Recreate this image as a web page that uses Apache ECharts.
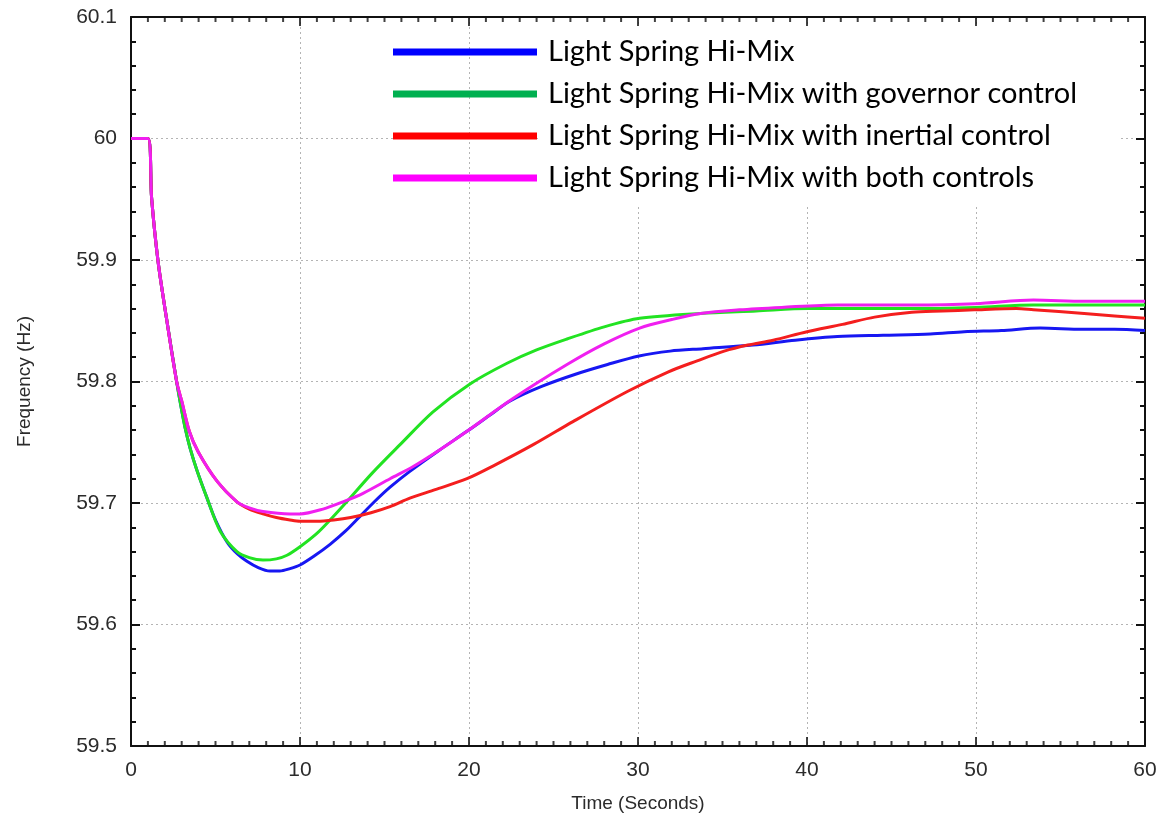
<!DOCTYPE html>
<html>
<head>
<meta charset="utf-8">
<script src="https://cdn.jsdelivr.net/npm/echarts@6/dist/echarts.min.js"></script>
<style>
  html, body { margin: 0; padding: 0; background: #ffffff; }
  #chart { width: 1165px; height: 818px; }
</style>
</head>
<body>
<div id="chart"></div>
<script>
// Series names
const names = [
  'Light Spring Hi-Mix',
  'Light Spring Hi-Mix with governor control',
  'Light Spring Hi-Mix with inertial control',
  'Light Spring Hi-Mix with both controls'
];

// Time (s) and frequency (Hz) samples for each case
const tBlue = [0, 1.0, 1.22, 1.6, 2.1, 2.7, 2.95, 3.2, 3.5, 3.9, 4.5, 5.0, 5.68, 6.3, 6.86, 7.5, 8.22, 8.8, 9.41, 10, 10.9, 11.78, 12.7, 13.55, 14.4, 15.33, 16.5, 18.2, 19.88, 21.2, 22.43, 24.3, 26.3, 28.2, 30.06, 31.9, 33.85, 36.8, 39.3, 41.8, 44.5, 47.3, 49.3, 51.5, 53.8, 56.3, 58.2, 60];
const fBlue = [60, 60, 59.951, 59.899, 59.852, 59.800, 59.780, 59.762, 59.745, 59.727, 59.704, 59.686, 59.668, 59.658, 59.652, 59.647, 59.644, 59.644, 59.646, 59.649, 59.657, 59.666, 59.677, 59.689, 59.701, 59.713, 59.726, 59.743, 59.759, 59.772, 59.784, 59.796, 59.806, 59.814, 59.821, 59.825, 59.827, 59.830, 59.834, 59.837, 59.838, 59.839, 59.841, 59.842, 59.844, 59.843, 59.843, 59.842];

const tGreen = [0, 1.0, 1.22, 1.6, 2.1, 2.7, 2.95, 3.2, 3.5, 3.9, 4.5, 5.27, 6.27, 7.0, 7.81, 8.6, 9.23, 10, 11, 11.78, 12.7, 14.3, 15.92, 17.87, 20.06, 22.25, 24, 25.8, 28, 30.1, 33.7, 37, 40.06, 43, 46.2, 50, 53.4, 56.4, 60];
const fGreen = [60, 60, 59.951, 59.899, 59.852, 59.800, 59.780, 59.762, 59.745, 59.727, 59.704, 59.677, 59.660, 59.655, 59.653, 59.654, 59.657, 59.664, 59.675, 59.686, 59.700, 59.725, 59.748, 59.775, 59.798, 59.815, 59.826, 59.835, 59.845, 59.852, 59.856, 59.858, 59.860, 59.860, 59.860, 59.861, 59.863, 59.863, 59.863];

const tRed = [0, 1.0, 1.22, 1.6, 2.1, 2.7, 3.0, 3.45, 3.98, 5.09, 6.27, 7.0, 7.81, 8.6, 9.41, 10, 11, 12, 13, 14.2, 15.33, 16.5, 18, 19.88, 21.5, 23.8, 26.15, 29.4, 31.8, 33.5, 35.1, 36.5, 38, 40, 42.1, 44, 46.2, 48, 49.9, 52.4, 53.4, 56.4, 58.2, 60];
const fRed = [60, 60, 59.951, 59.899, 59.852, 59.800, 59.784, 59.759, 59.742, 59.718, 59.701, 59.695, 59.691, 59.688, 59.686, 59.685, 59.685, 59.686, 59.688, 59.692, 59.697, 59.704, 59.711, 59.720, 59.731, 59.748, 59.767, 59.792, 59.808, 59.817, 59.825, 59.830, 59.834, 59.841, 59.847, 59.853, 59.857, 59.858, 59.859, 59.860, 59.859, 59.856, 59.854, 59.852];

const tMagenta = [0, 1.0, 1.22, 1.6, 2.1, 2.7, 3.0, 3.45, 3.98, 5.09, 6.27, 7.0, 7.81, 9.41, 10, 11.36, 12.54, 13.73, 15.33, 16.7, 18.3, 19.88, 22.6, 25.8, 28, 30.1, 32, 33.7, 36, 38.5, 41.8, 46.2, 50, 53.4, 56.4, 60];
const fMagenta = [60, 60, 59.951, 59.899, 59.852, 59.800, 59.784, 59.759, 59.742, 59.718, 59.701, 59.696, 59.693, 59.691, 59.691, 59.695, 59.701, 59.708, 59.720, 59.730, 59.744, 59.759, 59.786, 59.814, 59.831, 59.844, 59.851, 59.856, 59.859, 59.861, 59.863, 59.863, 59.864, 59.867, 59.866, 59.866];

// Axis tick values
const xTicks = [0, 10, 20, 30, 40, 50, 60];
const yTicks = [59.5, 59.6, 59.7, 59.8, 59.9, 60, 60.1];
const xMinorStep = 1;

const lineColors = ['#1717f2', '#22e322', '#f41e1e', '#f01ff0'];
const legendColors = ['#0000ff', '#00b050', '#ff0000', '#ff00ff'];

const zip = (t, f) => t.map((v, i) => [v, f[i]]);
const seriesData = [zip(tBlue, fBlue), zip(tGreen, fGreen), zip(tRed, fRed), zip(tMagenta, fMagenta)];

// Plot box
const G = { left: 131, right: 20, top: 17, bottom: 72 };
const plotW = 1165 - G.left - G.right;

const ink = '#111111';
const labelFont = { color: '#2b2b2b', fontSize: 21, fontFamily: 'Liberation Sans' };
const nameFont = { color: '#2b2b2b', fontSize: 19, fontFamily: 'Liberation Sans' };
const gridLine = { show: true, lineStyle: { color: '#b4b4b4', type: [2, 3], width: 1 } };

function range(kind) {
  const isX = kind === 'x';
  return {
    min: isX ? xTicks[0] : yTicks[0],
    max: isX ? xTicks[xTicks.length - 1] : yTicks[yTicks.length - 1],
    interval: isX ? xTicks[1] - xTicks[0] : 0.1
  };
}

// Frame axis: box line, optional labels / grid / name, no ticks
function frameAxis(kind, pos, main) {
  const isX = kind === 'x';
  return Object.assign({
    type: 'value', position: pos,
    axisLine: { show: true, onZero: false, lineStyle: { color: ink, width: 2 } },
    axisTick: { show: false },
    minorTick: { show: false },
    axisLabel: main
      ? Object.assign({ show: true, margin: 14 }, labelFont, isX ? {} : { formatter: v => String(+v.toFixed(1)) })
      : { show: false },
    splitLine: main ? gridLine : { show: false },
    name: main ? (isX ? 'Time (Seconds)' : 'Frequency (Hz)') : '',
    nameLocation: 'middle', nameGap: isX ? 48 : 97,
    nameTextStyle: nameFont
  }, range(kind));
}

// Tick-only y axis placed on the opposite frame edge so its ticks point into the plot
function yTickAxis(pos) {
  return Object.assign({
    type: 'value', position: pos, offset: -plotW,
    axisLine: { show: false, onZero: false },
    axisTick: { show: true, length: 9, lineStyle: { color: ink, width: 2 } },
    minorTick: { show: true, splitNumber: 5, length: 5, lineStyle: { color: ink, width: 2 } },
    axisLabel: { show: false },
    splitLine: { show: false }
  }, range('y'));
}

// Tick marks along the bottom and top frame edges of the time axis
const xMin = xTicks[0], xMax = xTicks[xTicks.length - 1];
const yMin = yTicks[0], yMax = yTicks[yTicks.length - 1];
const xTickMarks = [];
for (let t = xMin; t <= xMax + 1e-9; t += xMinorStep) {
  const major = xTicks.indexOf(t) >= 0;
  const len = major ? 9 : 5;
  xTickMarks.push({ value: [t, yMin], symbolSize: [2, len], symbolOffset: [0, -len / 2] });
  xTickMarks.push({ value: [t, yMax], symbolSize: [2, len], symbolOffset: [0, len / 2] });
}

const chart = echarts.init(document.getElementById('chart'), null, { renderer: 'canvas' });
chart.setOption({
  backgroundColor: '#ffffff',
  animation: false,
  grid: Object.assign({ containLabel: false }, G),
  xAxis: [frameAxis('x', 'bottom', true), frameAxis('x', 'top', false)],
  yAxis: [frameAxis('y', 'left', true), frameAxis('y', 'right', false), yTickAxis('right'), yTickAxis('left')],
  legend: {
    orient: 'vertical', left: 393, top: 37, padding: 0,
    itemWidth: 144, itemHeight: 7, itemGap: 12, icon: 'rect',
    data: names.map((n, i) => ({ name: n, itemStyle: { color: legendColors[i] } })),
    textStyle: { color: '#000', fontSize: 29, fontFamily: 'Lato', lineHeight: 30, padding: [0, 0, 0, 6] },
    z: 10
  },
  graphic: [{
    type: 'rect', z: 1, silent: true,
    shape: { x: 541, y: 27, width: 577, height: 180 },
    style: { fill: '#ffffff' }
  }],
  series: seriesData.map((d, i) => ({
    name: names[i], type: 'line', data: d, xAxisIndex: 0, yAxisIndex: 0,
    showSymbol: false, smooth: 0.3, z: 3 + i,
    lineStyle: { color: lineColors[i], width: 3 },
    itemStyle: { color: lineColors[i] }
  })).concat([{
    name: 'time-ticks', type: 'scatter', data: xTickMarks, xAxisIndex: 0, yAxisIndex: 0,
    symbol: 'rect', clip: false, silent: true, z: 2,
    itemStyle: { color: ink }
  }])
});
</script>
</body>
</html>
